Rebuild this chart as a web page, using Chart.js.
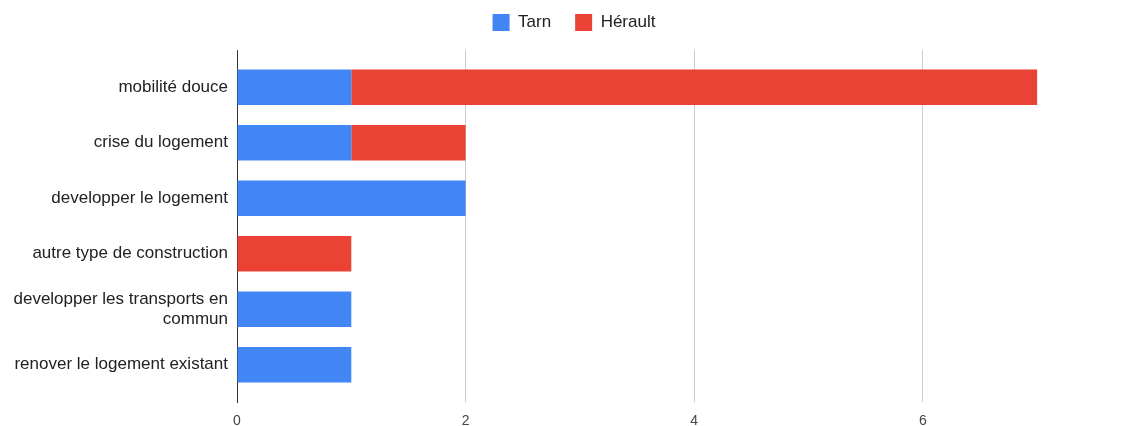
<!DOCTYPE html>
<html>
<head>
<meta charset="utf-8">
<script src="https://cdn.jsdelivr.net/npm/chart.js@4"></script>
<style>
  html, body { margin: 0; padding: 0; background: #fff; }
  #wrap { width: 1148px; height: 426px; }
</style>
</head>
<body>
<div id="wrap"><canvas id="bChart"></canvas></div>
<script>
// Data
var categories = [
    'mobilité douce',
    'crise du logement',
    'developper le logement',
    'autre type de construction',
    ['developper les transports en', 'commun'],
    'renover le logement existant'
];
var tarn = [1, 1, 2, 0, 1, 1];
var herault = [6, 1, 0, 1, 0, 0];
var xTicks = [0, 2, 4, 6];

Chart.defaults.font.family = '"Liberation Sans", Arial, sans-serif';

// bars sit on a numeric y scale so the rows can have extra room at both ends
function rows(values) {
    return values.map(function(v, i) { return { x: v, y: i }; });
}

// fixed legend band height
var legendHeight = {
    id: 'legendHeight',
    beforeInit: function(chart) {
        var fit = chart.legend.fit;
        chart.legend.fit = function() {
            fit.bind(chart.legend)();
            this.height = 60;
        };
    }
};

var ctx = document.getElementById('bChart').getContext('2d');
var bChart = new Chart(ctx, {
    type: 'bar',
    data: {
        datasets: [{
            label: 'Tarn',
            data: rows(tarn),
            backgroundColor: '#4285F4',
            barPercentage: 0.64,
            categoryPercentage: 1
        }, {
            label: 'Hérault',
            data: rows(herault),
            backgroundColor: '#EA4335',
            barPercentage: 0.64,
            categoryPercentage: 1
        }]
    },
    options: {
        responsive: true,
        maintainAspectRatio: false,
        animation: false,
        indexAxis: 'y',
        layout: {
            padding: { left: 0, right: 0, top: -10, bottom: 0 }
        },
        plugins: {
            legend: {
                position: 'top',
                labels: {
                    boxWidth: 17,
                    boxHeight: 17,
                    padding: 24,
                    font: { size: 17 },
                    color: '#222'
                }
            },
            tooltip: { enabled: false }
        },
        scales: {
            x: {
                stacked: true,
                min: 0,
                max: 7.97,
                afterBuildTicks: function(scale) {
                    scale.ticks = xTicks.map(function(v) { return { value: v }; });
                },
                afterFit: function(scale) {
                    scale.height = 24;
                },
                border: { display: false },
                grid: {
                    color: function(c) {
                        return c.tick && c.tick.value === 0 ? 'rgba(0,0,0,0)' : '#cccccc';
                    },
                    drawTicks: false
                },
                ticks: {
                    padding: 11,
                    font: { size: 14 },
                    color: '#444'
                }
            },
            y: {
                type: 'linear',
                stacked: true,
                reverse: true,
                offset: false,
                min: -0.67,
                max: categories.length - 0.33,
                afterBuildTicks: function(scale) {
                    scale.ticks = categories.map(function(c, i) { return { value: i }; });
                },
                afterFit: function(scale) {
                    scale.width = 237;
                },
                border: { color: '#333333', width: 1 },
                grid: { display: false, drawTicks: false },
                ticks: {
                    padding: 9,
                    autoSkip: false,
                    font: { size: 17 },
                    color: '#222',
                    callback: function(value) {
                        return categories[value];
                    }
                }
            }
        }
    },
    plugins: [legendHeight]
});
</script>
</body>
</html>
